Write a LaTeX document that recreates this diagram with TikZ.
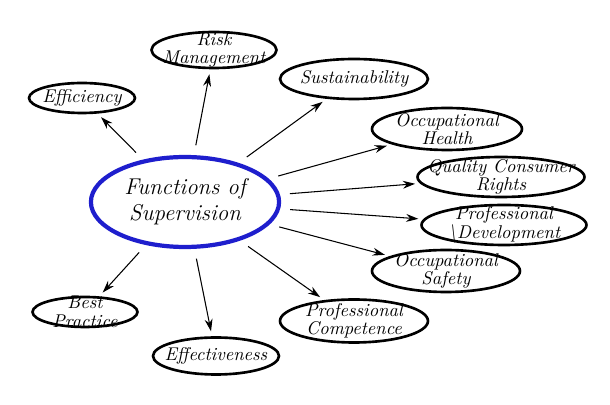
\documentclass[tikz,border=0pt]{standalone}
\usepackage{xcolor}
\usetikzlibrary{shapes.geometric,arrows.meta}

\definecolor{ringblue}{RGB}{30,30,205}

\begin{document}
\begin{tikzpicture}[x=0.02cm,y=-0.02cm,
    item/.style={draw,ellipse,line width=1.5pt,inner xsep=-12pt,inner ysep=-6pt,align=center,
      font=\itshape\fontsize{10.5}{10.5}\selectfont},
    arr/.style={-{Stealth[length=7pt,width=4.5pt]},line width=0.6pt,shorten <=0.2cm,shorten >=0.1cm}]
    \useasboundingbox (0,0) rectangle (610,405);
    \node[draw=ringblue,ellipse,line width=2.4pt,minimum width=3cm,minimum height=1.8cm,
      align=center,font=\itshape\fontsize{13}{15}\selectfont] (cen) at (185,202) {Functions of\\Supervision};
    \node[item,minimum width=2.5cm,minimum height=0.72cm] (risk) at (214,50) {Risk\\Management};
    \node[item,minimum width=2.12cm,minimum height=0.6cm] (eff) at (82,98) {Efficiency};
    \node[item,minimum width=2.96cm,minimum height=0.8cm] (sus) at (354,79) {Sustainability};
    \node[item,minimum width=3cm,minimum height=0.84cm] (ohealth) at (447,129) {Occupational\\Health};
    \node[item,minimum width=3.34cm,minimum height=0.8cm] (qcr) at (501,177) {Quality Consumer\\Rights};
    \node[item,minimum width=3.3cm,minimum height=0.8cm] (pdev) at (504,225) {Professional\\\textbackslash Development};
    \node[item,minimum width=2.96cm,minimum height=0.84cm] (osafe) at (446,271) {Occupational\\Safety};
    \node[item,minimum width=2.96cm,minimum height=0.86cm] (pcomp) at (354,321) {Professional\\Competence};
    \node[item,minimum width=2.1cm,minimum height=0.6cm] (best) at (85,312) {Best\\Practice};
    \node[item,minimum width=2.52cm,minimum height=0.74cm] (effec) at (216,356) {Effectiveness};
    \draw[arr] (cen) to (eff);
    \draw[arr] (cen) to (risk);
    \draw[arr] (cen) to (sus);
    \draw[arr] (cen) to (ohealth);
    \draw[arr] (cen) to (qcr);
    \draw[arr] (cen) to (pdev);
    \draw[arr] (cen) to (osafe);
    \draw[arr] (cen) to (pcomp);
    \draw[arr] (cen) to (effec);
    \draw[arr] (cen) to (best);
\end{tikzpicture}
\end{document}
